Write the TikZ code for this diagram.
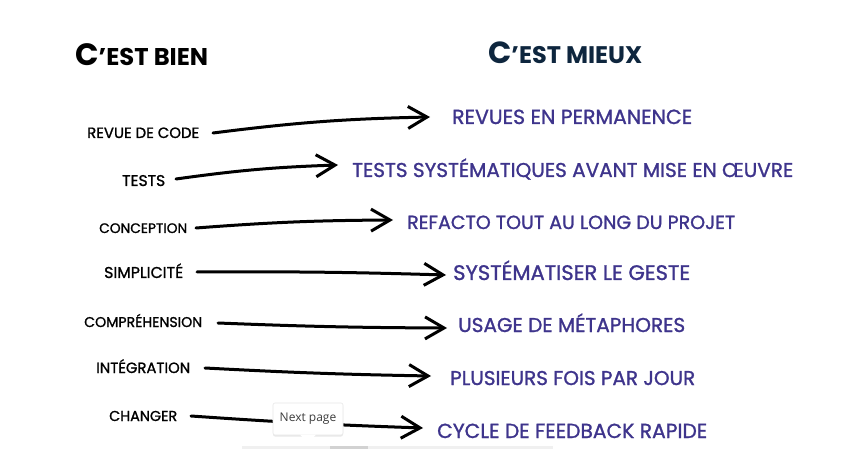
\documentclass[tikz,border=0pt]{standalone}
\usepackage{fontspec}
\usepackage{graphicx}
\setmainfont{Poppins}
\newfontfamily\medfont{Poppins}[FakeBold=1.2]
\newfontfamily\tipfont{Open Sans}
\usetikzlibrary{arrows.meta,shadows}
\definecolor{violetx}{RGB}{62,52,140}
\definecolor{navyx}{RGB}{14,38,62}
\definecolor{tipgray}{RGB}{60,60,60}
\newcommand{\fitw}[2]{\resizebox{#1}{!}{#2}}
\begin{document}
\begin{tikzpicture}[x=1pt,y=-1pt,
  lbl/.style={anchor=base west,inner sep=0pt,text=black,font=\medfont\fontsize{10}{12}\selectfont},
  res/.style={anchor=base west,inner sep=0pt,text=violetx,font=\medfont\fontsize{14}{16}\selectfont},
  ttl/.style={anchor=base west,inner sep=0pt,font=\bfseries},
  arr/.style={line width=3pt,line cap=round,
    -{Straight Barb[length=19pt,width=22pt,line width=3pt]}}]
\useasboundingbox (0,0) rectangle (844,449);
\fill[white] (0,0) rectangle (844,449);

% titles
\node[ttl,text=black] (t1) at (75,66) {\fitw{133pt}{{\fontsize{28}{28}\selectfont C}{\fontsize{22}{22}\selectfont ’EST BIEN}}};
\node[ttl,text=navyx] (t2) at (488,64) {\fitw{154pt}{{\fontsize{28}{28}\selectfont C}{\fontsize{22}{22}\selectfont ’EST MIEUX}}};

% left labels
\node[lbl] (l1) at (87,138) {\fitw{112pt}{REVUE DE CODE}};
\node[lbl] (l2) at (122,186) {\fitw{43pt}{TESTS}};
\node[lbl] (l3) at (99,233) {\fitw{88pt}{CONCEPTION}};
\node[lbl] (l4) at (104,278) {\fitw{79pt}{SIMPLICITÉ}};
\node[lbl] (l5) at (84,327) {\fitw{118pt}{COMPRÉHENSION}};
\node[lbl] (l6) at (96,373) {\fitw{94pt}{INTÉGRATION}};
\node[lbl] (l7) at (109,421) {\fitw{68pt}{CHANGER}};

% right labels
\node[res] (r1) at (452,124) {\fitw{240pt}{REVUES EN PERMANENCE}};
\node[res] (r2) at (352,177) {\fitw{441pt}{TESTS SYSTÉMATIQUES AVANT MISE EN ŒUVRE}};
\node[res] (r3) at (407,229) {\fitw{328pt}{REFACTO TOUT AU LONG DU PROJET}};
\node[res] (r4) at (453,280) {\fitw{237pt}{SYSTÉMATISER LE GESTE}};
\node[res] (r5) at (458,332) {\fitw{227pt}{USAGE DE MÉTAPHORES}};
\node[res] (r6) at (450,385) {\fitw{245pt}{PLUSIEURS FOIS PAR JOUR}};
\node[res] (r7) at (437,438) {\fitw{270pt}{CYCLE DE FEEDBACK RAPIDE}};

% arrow ends
\coordinate (a1) at (213,133); \coordinate (b1) at (430,117);
\coordinate (a2) at (176,179); \coordinate (b2) at (338,165);
\coordinate (a3) at (196,228); \coordinate (b3) at (393,220);
\coordinate (a4) at (197,272); \coordinate (b4) at (446,275);
\coordinate (a5) at (218,323); \coordinate (b5) at (447,328);
\coordinate (a6) at (205,368); \coordinate (b6) at (431,376);
\coordinate (a7) at (191,416); \coordinate (b7) at (423,428);

\draw[arr] (a1) to[bend left=3] (b1);
\draw[arr] (a2) to[bend left=3] (b2);
\draw[arr] (a3) to[bend left=2] (b3);
\draw[arr] (a4) to[bend left=1] (b4);
\draw[arr] (a5) to[bend right=1] (b5);
\draw[arr] (a6) to[bend right=1] (b6);
\draw[arr] (a7) to[bend right=1] (b7);

% screen artefacts
\fill[gray!12] (242,446) rectangle (553,449);
\fill[gray!35] (330,446) rectangle (368,449);
\node[fill=white,draw=gray!18,line width=0.6pt,rounded corners=2pt,minimum width=70pt,minimum height=32pt,
  drop shadow={opacity=0.18,shadow xshift=0pt,shadow yshift=-1.5pt},
  text=tipgray,font=\tipfont\fontsize{12}{14}\selectfont] (tip) at (308,419) {Next page};
\fill[white] ([xshift=-8pt,yshift=0.8pt]tip.south) -- ([xshift=8pt,yshift=0.8pt]tip.south) -- ([yshift=-8pt]tip.south) -- cycle;
\end{tikzpicture}
\end{document}
